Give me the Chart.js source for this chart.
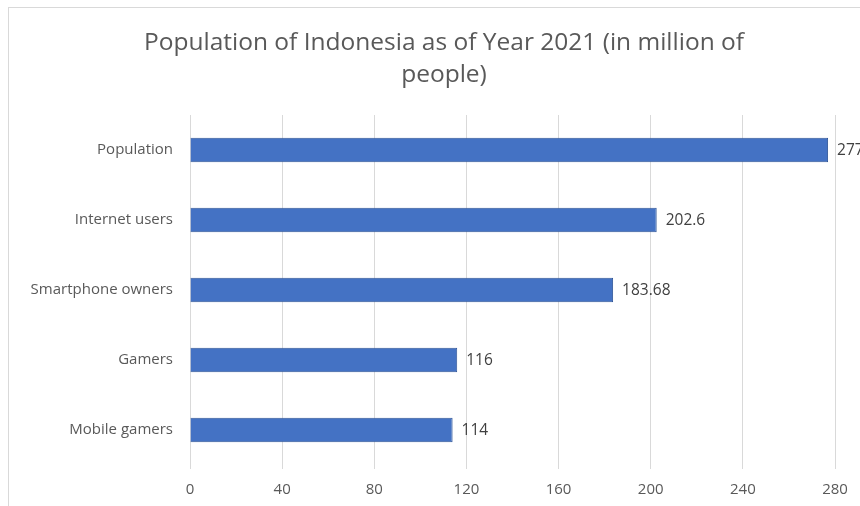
<!DOCTYPE html>
<html>
<head>
<meta charset="utf-8">
<script src="https://cdn.jsdelivr.net/npm/chart.js@4"></script>
<style>
  html,body{margin:0;padding:0;background:#fff;overflow:hidden;width:860px;height:506px;}
  #wrap{position:relative;width:888px;height:506px;}
  #frame{position:absolute;left:8px;top:7px;width:900px;height:600px;border-left:1px solid #d9d9d9;border-top:1px solid #d9d9d9;pointer-events:none;}
</style>
</head>
<body>
<div id="wrap">
  <canvas id="chart" width="888" height="506"></canvas>
  <div id="frame"></div>
</div>
<script>
// DATA
const titleLines = ["Population of Indonesia as of Year 2021 (in million of", "people)"];
const categories = ["Population", "Internet users", "Smartphone owners", "Gamers", "Mobile gamers"];
const values = [277, 202.6, 183.68, 116, 114];
const valueLabels = ["277", "202.6", "183.68", "116", "114"];
const xTicks = [0, 40, 80, 120, 160, 200, 240, 280];

const FONT = "'Open Sans', sans-serif";

// TITLE (drawn off-centre like the original)
const titlePlugin = {
  id: "titlePlugin",
  afterDraw(c){
    const ctx = c.ctx;
    ctx.save();
    ctx.font = "24.5px " + FONT;
    ctx.fillStyle = "#595959";
    ctx.textAlign = "center";
    ctx.textBaseline = "middle";
    ctx.fillText(titleLines[0], 444, 43);
    ctx.fillText(titleLines[1], 444, 75);
    ctx.restore();
  }
};

// LABELS AT BAR END
const barLabels = {
  id: "barLabels",
  afterDatasetsDraw(c){
    const ctx = c.ctx;
    const meta = c.getDatasetMeta(0);
    ctx.save();
    ctx.font = "15.5px " + FONT;
    ctx.fillStyle = "#404040";
    ctx.textAlign = "left";
    ctx.textBaseline = "middle";
    meta.data.forEach((bar, i) => {
      ctx.fillText(valueLabels[i], bar.x + 9, bar.y + 1);
    });
    ctx.restore();
  }
};

new Chart(document.getElementById("chart"), {
  type: "bar",
  data: {
    labels: categories,
    datasets: [{
      data: values,
      backgroundColor: "#4472c4",
      borderColor: "#2f5597",
      borderWidth: 1,
      barPercentage: 0.35,
      categoryPercentage: 1
    }]
  },
  options: {
    indexAxis: "y",
    responsive: false,
    animation: false,
    layout: { padding: { left: 0, right: 53, top: 115, bottom: 0 } },
    plugins: {
      legend: { display: false },
      tooltip: { enabled: false },
      title: { display: false }
    },
    scales: {
      x: {
        min: 0,
        max: 280,
        afterBuildTicks: s => { s.ticks = xTicks.map(v => ({ value: v })); },
        afterFit: s => { s.height = 41; },
        grid: { color: "#d9d9d9", tickLength: 4, drawTicks: true },
        border: { display: false },
        ticks: { color: "#595959", padding: 12, font: { family: FONT, size: 15 } }
      },
      y: {
        afterFit: s => { s.width = 190; },
        grid: { display: false, drawTicks: false },
        border: { display: false },
        ticks: { color: "#595959", padding: 17, font: { family: FONT, size: 15 } }
      }
    }
  },
  plugins: [barLabels, titlePlugin]
});
</script>
</body>
</html>
